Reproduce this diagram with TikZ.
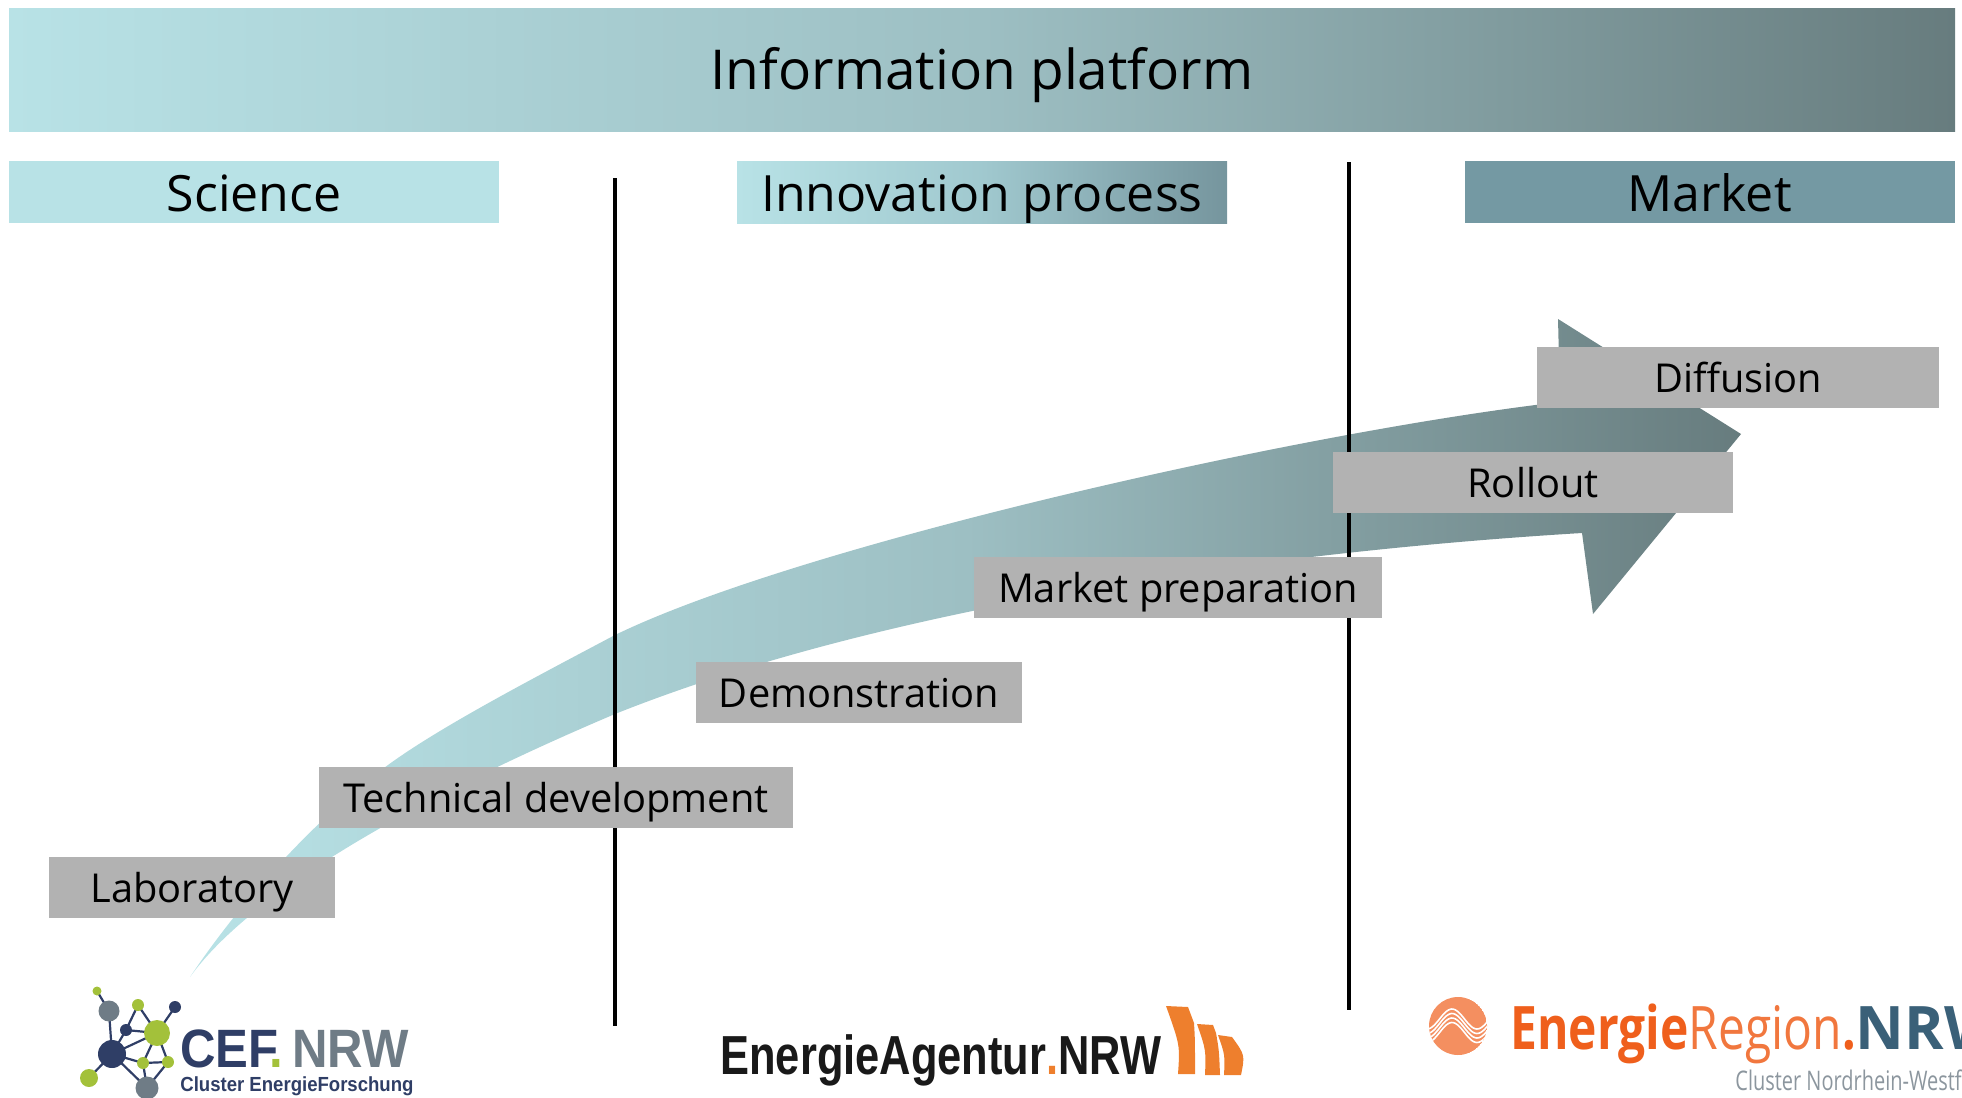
\documentclass[tikz,border=0pt]{standalone}
\usepackage{fontspec}
\setmainfont{Open Sans}
\newfontfamily\ceffont[FakeStretch=0.91]{Liberation Sans}
\newfontfamily\eafont[FakeStretch=0.79]{Liberation Sans}
\newfontfamily\erfont[FakeStretch=0.8]{Open Sans}
\newfontfamily\ersubfont[FakeStretch=0.74]{Open Sans}
\definecolor{lightteal}{HTML}{B8E2E6}
\definecolor{midteal}{HTML}{9DBFC3}
\definecolor{darkteal}{HTML}{677C7E}
\definecolor{marketteal}{HTML}{7499A3}
\definecolor{stagegray}{HTML}{B2B2B2}
\definecolor{cefnavy}{HTML}{2F3E66}
\definecolor{cefgreen}{HTML}{A3C13A}
\definecolor{cefgray}{HTML}{6F7C86}
\definecolor{eaorange}{HTML}{EE7F2D}
\definecolor{erorange}{HTML}{EF5F1C}
\definecolor{erblue}{HTML}{3A6078}
\tikzset{
	tealshade/.style={left color=lightteal,right color=darkteal,middle color=midteal},
	headbox/.style={minimum width=245pt,minimum height=31pt,inner sep=0pt,text height=24.5pt,text depth=5pt,font=\fontsize{25}{30}\selectfont},
	stagebox/.style={fill=stagegray,minimum height=30.5pt,inner sep=0pt,text height=20pt,text depth=4.4pt,font=\fontsize{19.9}{24}\selectfont},
	divider/.style={line width=1.7pt},
	cefdot/.style={circle,fill=#1,inner sep=0pt},
	cefedge/.style={cefnavy,line width=1.1pt}
}
\begin{document}
\begin{tikzpicture}[x=0.5pt,y=-0.5pt,>=stealth]
	\useasboundingbox (0,0) rectangle (1962,1097);
	\node[tealshade,minimum width=973pt,minimum height=61.5pt,inner sep=0pt,text height=28pt,text depth=8.6pt,font=\fontsize{27.5}{33}\selectfont] (platform) at (982,70) {Information platform};
	\node[headbox,fill=lightteal] (science) at (254,192) {Science};
	\node[headbox,left color=lightteal,right color=marketteal!85!gray,middle color=lightteal!65!marketteal] (innovation) at (982,192) {Innovation process};
	\node[headbox,fill=marketteal] (market) at (1709.5,192) {Market};
	% big arrow
	\shade[tealshade] (190,977)%
	.. controls (245,895) and (320,815) .. (388,765)%
	.. controls (440,727) and (530,680) .. (615,635)%
	.. controls (800,545) and (1300,432) .. (1560,402)%
	-- (1558,319) -- (1741,434) -- (1593,614) -- (1582,533)%
	.. controls (1300,550) and (900,600) .. (615,714)%
	.. controls (485,769) and (265,873) .. cycle;
	\coordinate (lineAtop) at (615,178);
	\coordinate (lineAbot) at (615,1026);
	\coordinate (lineBtop) at (1349,162);
	\coordinate (lineBbot) at (1349,1010);
	\draw[divider] (lineAtop)--(lineAbot);
	\draw[divider] (lineBtop)--(lineBbot);
	\foreach \cx/\cy/\bw/\nm/\txt in {192/887/143/laboratory/Laboratory,556/797/237/techdev/Technical development,859/692/163/demo/Demonstration,1178/587/204/marketprep/Market preparation,1533/482/200/rollout/Rollout,1738/377/201/diffusion/Diffusion}{
		\node[stagebox,minimum width=\bw pt] (\nm) at (\cx,\cy) {\txt};
	}
	% CEF logo
	\foreach \nm/\cx/\cy in {a/97/991,b/109/1011,c/138/1005,d/175/1007,e/126/1030,f/157/1033,g/112/1054,h/143/1063,i/168/1062,j/89/1078,k/147/1088}{
		\coordinate (p\nm) at (\cx,\cy);
	}
	\foreach \ea/\eb in {a/b,b/g,g/j,g/e,e/f,g/f,g/h,g/k,c/e,c/f,f/d,f/h,f/i,h/i,i/k,h/k}{
		\draw[cefedge] (p\ea)--(p\eb);
	}
	\foreach \nm/\col/\dia in {a/cefgreen/4.5,b/cefgray/10.5,c/cefgreen/6,d/cefnavy/6,e/cefnavy/6,f/cefgreen/13,g/cefnavy/14,h/cefgreen/6,i/cefgreen/6,j/cefgreen/9,k/cefgray/11.5}{
		\node[cefdot=\col,minimum size=\dia pt] (q\nm) at (p\nm) {};
	}
	\node[anchor=base west,inner sep=0pt,font=\ceffont\bfseries\fontsize{27}{30}\selectfont] (ceftext) at (180,1067) {\textcolor{cefnavy}{CEF}\hspace{-4.5pt}\textcolor{cefgreen}{.}\hspace{4.5pt}\textcolor{cefgray}{NRW}};
	\node[anchor=base west,inner sep=0pt,text=cefnavy,font=\ceffont\bfseries\fontsize{10.2}{12}\selectfont] (cefsub) at (180,1091) {Cluster EnergieForschung};
	% Energieagentur logo
	\node[anchor=base west,inner sep=0pt,text=black!90,font=\eafont\bfseries\fontsize{27.5}{30}\selectfont] (eatext) at (720,1074) {EnergieAgentur\textcolor{eaorange}{.}NRW};
	\fill[eaorange] (1166,1006)--(1188,1007)--(1194,1023) .. controls (1195,1040) .. (1195,1074)--(1178,1074) .. controls (1180,1045) .. cycle;
	\fill[eaorange] (1197,1024)--(1213,1025)--(1216,1033) .. controls (1219,1050) .. (1220,1075)--(1205,1075) .. controls (1206,1050) .. cycle;
	\fill[eaorange] (1218,1035)--(1232,1037) .. controls (1245,1055) .. (1241,1075)--(1224,1075) .. controls (1225,1055) .. cycle;
	% Energieregion logo
	\begin{scope}
		\clip (1458,1026) circle (29);
		\fill[erorange!70] (1458,1026) circle (29);
		\foreach \dy in {-7,-2.5,2,6.5}{
			\draw[white,line width=0.8pt,domain=1425:1490,samples=40] plot (\x,{1026+\dy-10*cos(7.2*(\x-1452))});
		}
	\end{scope}
	\node[anchor=base west,inner sep=0pt,font=\erfont\fontsize{30}{34}\selectfont] (ertext) at (1510,1049) {\textcolor{erorange}{\bfseries Energie}\textcolor{erorange!85}{Region}\textcolor{erorange}{\bfseries .}\textcolor{erblue}{\setmainfont{Open Sans}\normalfont\bfseries NRW}};
	\node[anchor=base west,inner sep=0pt,text=cefgray!80,font=\ersubfont\fontsize{13.5}{16}\selectfont] (ersub) at (1735,1090) {Cluster Nordrhein-Westf};
\end{tikzpicture}
\end{document}
